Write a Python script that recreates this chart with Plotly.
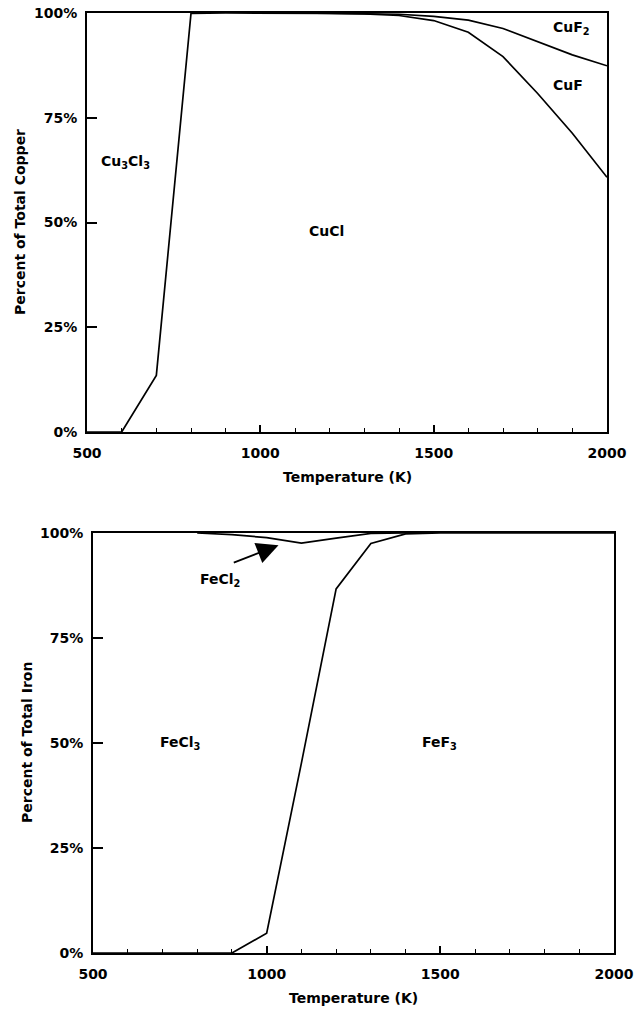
import numpy as np
import plotly.graph_objects as go

# ---- data ----
temperature_K = [500, 600, 700, 800, 900, 1000, 1100, 1200, 1300, 1400, 1500, 1600, 1700, 1800, 1900, 2000]

# Copper speciation (percent of total copper)
cu_CuCl   = [0, 0, 13.5, 99.9, 100, 100, 100, 99.9, 99.8, 99.4, 98.2, 95.4, 89.6, 80.8, 71.3, 60.8]
cu_CuF    = [0, 0, 0, 0, 0, 0, 0, 0.05, 0.1, 0.3, 1.0, 2.9, 6.7, 12.4, 18.7, 26.6]
cu_CuF2   = [0, 0, 0, 0, 0, 0, 0, 0.05, 0.1, 0.3, 0.8, 1.7, 3.7, 6.8, 10.0, 12.6]
cu_Cu3Cl3 = [100, 100, 86.5, 0.1, 0, 0, 0, 0, 0, 0, 0, 0, 0, 0, 0, 0]

# Iron speciation (percent of total iron)
fe_FeF3  = [0, 0, 0, 0, 0, 4.7, 45.2, 86.7, 97.5, 99.8, 100, 100, 100, 100, 100, 100]
fe_FeCl3 = [100, 100, 100, 100, 99.6, 94.2, 52.4, 12.1, 2.4, 0.2, 0, 0, 0, 0, 0, 0]
fe_FeCl2 = [0, 0, 0, 0, 0.4, 1.1, 2.4, 1.2, 0.1, 0, 0, 0, 0, 0, 0, 0]

x_ticks = [500, 1000, 1500, 2000]
y_ticks = [0, 25, 50, 75, 100]
y_tick_text = ["0%", "25%", "50%", "75%", "100%"]

FONT = "DejaVu Sans"
W, H = 636, 1009
LW = 1.7

T = np.array(temperature_K)
# cumulative boundaries between stacked regions
cu_b1 = np.array(cu_CuCl)                       # CuCl | (CuF or Cu3Cl3)
cu_b2 = cu_b1 + np.array(cu_CuF)                # CuF | CuF2
fe_b1 = np.array(fe_FeF3)                       # FeF3 | FeCl3
fe_b2 = fe_b1 + np.array(fe_FeCl3)              # FeCl3 | FeCl2

hi = T >= 1100          # where CuF/CuF2 boundary separates from the others
mid = (T >= 800) & (T <= 1400)   # where FeCl2 sliver exists

fig = go.Figure()
line = dict(color="black", width=LW)

fig.add_trace(go.Scatter(x=T, y=cu_b1, mode="lines", line=line, name="CuCl",
                         xaxis="x", yaxis="y"))
fig.add_trace(go.Scatter(x=T[hi], y=cu_b2[hi], mode="lines", line=line, name="CuCl+CuF",
                         xaxis="x", yaxis="y"))
fig.add_trace(go.Scatter(x=T, y=fe_b1, mode="lines", line=line, name="FeF3",
                         xaxis="x2", yaxis="y2"))
fig.add_trace(go.Scatter(x=T[mid], y=fe_b2[mid], mode="lines", line=line, name="FeF3+FeCl3",
                         xaxis="x2", yaxis="y2"))

tickfont = dict(family=FONT, size=14, color="black", weight="bold")

def xax(domain, anchor):
    return dict(domain=domain, anchor=anchor, range=[500, 2000], automargin=False,
                tickvals=x_ticks, ticks="inside", ticklen=7, tickwidth=1.5,
                tickcolor="black", showline=True, linewidth=2, linecolor="black",
                mirror=True, showgrid=False, zeroline=False,
                ticklabelstandoff=7,
                minor=dict(dtick=100, ticks="inside", ticklen=4, tickwidth=1,
                           tickcolor="black", showgrid=False),
                tickfont=tickfont)

def yax(domain, anchor):
    return dict(domain=domain, anchor=anchor, range=[0, 100], automargin=False,
                tickvals=y_ticks, ticktext=y_tick_text, ticks="inside",
                ticklen=10, tickwidth=1.5, tickcolor="black",
                showline=True, linewidth=2, linecolor="black", mirror=True,
                showgrid=False, zeroline=False, ticklabelstandoff=5,
                tickfont=tickfont)

top_x = [87 / W, 607 / W]
top_y = [1 - 432 / H, 1 - 13 / H]
bot_x = [93 / W, 614 / W]
bot_y = [1 - 953 / H, 1 - 533 / H]

txt = dict(family=FONT, size=14, color="black", weight="bold")
c = dict(xanchor="center", yanchor="middle", showarrow=False, font=txt)

annotations = [
    dict(x=610, y=64.4, xref="x", yref="y", text="Cu<sub>3</sub>Cl<sub>3</sub>", **c),
    dict(x=1192, y=48, xref="x", yref="y", text="CuCl", **c),
    dict(x=1899, y=96.4, xref="x", yref="y", text="CuF<sub>2</sub>", **c),
    dict(x=1887, y=82.8, xref="x", yref="y", text="CuF", **c),
    dict(x=753, y=50, xref="x2", yref="y2", text="FeCl<sub>3</sub>", **c),
    dict(x=1499, y=50, xref="x2", yref="y2", text="FeF<sub>3</sub>", **c),
    dict(x=866, y=88.8, xref="x2", yref="y2", text="FeCl<sub>2</sub>", **c),
    dict(x=1034, y=97.1, xref="x2", yref="y2", ax=901, ay=92.8, axref="x2", ayref="y2",
         text="", showarrow=True, arrowhead=2, arrowsize=2.4, arrowwidth=1.8,
         arrowcolor="black", standoff=0),
    # axis titles
    dict(x=347 / W, y=1 - 477 / H, xref="paper", yref="paper", text="Temperature (K)", **c),
    dict(x=353 / W, y=1 - 998 / H, xref="paper", yref="paper", text="Temperature (K)", **c),
    dict(x=20 / W, y=1 - 222 / H, xref="paper", yref="paper", text="Percent of Total Copper",
         textangle=-90, **c),
    dict(x=27 / W, y=1 - 743 / H, xref="paper", yref="paper", text="Percent of Total Iron",
         textangle=-90, **c),
]

fig.update_layout(
    width=W, height=H, autosize=False,
    margin=dict(l=0, r=0, t=0, b=0, pad=0, autoexpand=False),
    paper_bgcolor="white", plot_bgcolor="white",
    font=dict(family=FONT, size=14, color="black", weight="bold"),
    xaxis=xax(top_x, "y"), yaxis=yax(top_y, "x"),
    xaxis2=xax(bot_x, "y2"), yaxis2=yax(bot_y, "x2"),
    annotations=annotations,
    showlegend=False,
)

fig.write_html("out.html")
